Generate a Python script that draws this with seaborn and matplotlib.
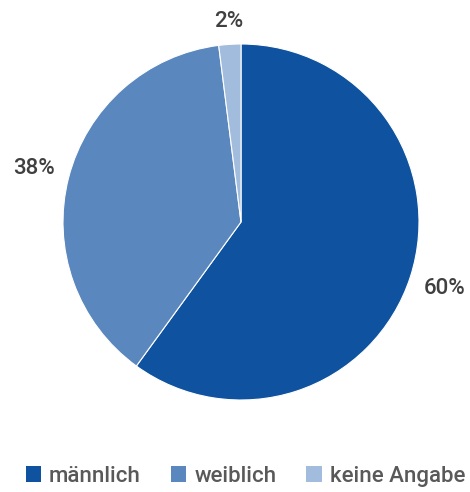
import matplotlib
matplotlib.use("Agg")
import matplotlib.pyplot as plt
import seaborn as sns
from matplotlib.patches import Patch
from matplotlib import font_manager

sns.set_theme(style="white")

categories = ["männlich", "weiblich", "keine Angabe"]
shares = [60, 38, 2]
colors = ["#0f529f", "#5a87bd", "#a1bcdc"]

avail = {f.name for f in font_manager.fontManager.ttflist}
family = [f for f in ["Roboto", "DejaVu Sans"] if f in avail]
plt.rcParams["font.family"] = family

fig = plt.figure(figsize=(4.70, 4.92), dpi=100)
cx, cy, r = 241, 222, 178
W, H = 470, 492
ax = fig.add_axes([(cx - r) / W, (H - cy - r) / H, 2 * r / W, 2 * r / H])

wedges, texts, autotexts = ax.pie(
    shares,
    colors=colors,
    startangle=90,
    counterclock=False,
    autopct=lambda p: f"{p:.0f}%",
    pctdistance=1.2,
    wedgeprops=dict(linewidth=0.8, edgecolor="white"),
    textprops=dict(fontsize=16, color="#404040", fontweight="medium"),
)
# pull the small slice's label closer to the rim
x, y = autotexts[2].get_position()
autotexts[2].set_position((x * 1.13 / 1.2, y * 1.13 / 1.2))

ax.set_xlim(-1, 1)
ax.set_ylim(-1, 1)
ax.set_aspect("equal")
ax.axis("off")

handles = [Patch(facecolor=c, edgecolor="none") for c in colors]
leg = fig.legend(
    handles, categories,
    loc="lower center", bbox_to_anchor=(0.522, -0.03), ncol=3, frameon=False,
    handlelength=0.7, handleheight=0.7, handletextpad=0.35,
    columnspacing=1.35,
    prop=dict(size=16, weight="medium"),
)
for t in leg.get_texts():
    t.set_color("#595959")

fig.savefig("out.png", dpi=100)
